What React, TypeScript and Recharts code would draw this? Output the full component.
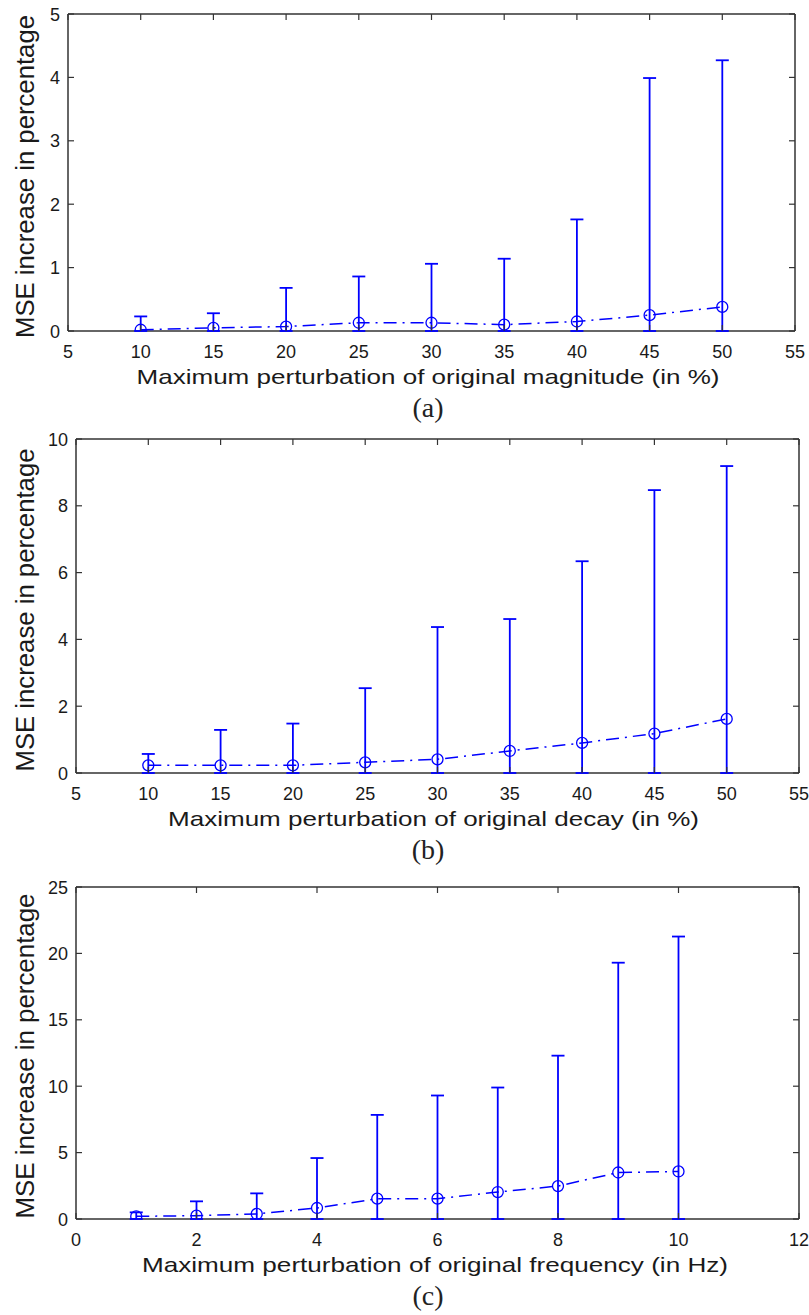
import { ComposedChart, Line, XAxis, YAxis, ErrorBar } from "recharts";

const BLUE = "#0000ff";
const FRAME = "#333333";
const INK = "#1a1a1a";
const SANS = "'Liberation Sans', Arial, sans-serif";

// (a) perturbation of magnitude
const magX = [10, 15, 20, 25, 30, 35, 40, 45, 50];
const magMean = [0.02, 0.05, 0.07, 0.13, 0.13, 0.1, 0.15, 0.25, 0.38];
const magUpper = [0.23, 0.28, 0.68, 0.86, 1.06, 1.14, 1.76, 3.99, 4.27];
const magXTicks = [5, 10, 15, 20, 25, 30, 35, 40, 45, 50, 55];
const magYTicks = [0, 1, 2, 3, 4, 5];

// (b) perturbation of decay
const decX = [10, 15, 20, 25, 30, 35, 40, 45, 50];
const decMean = [0.23, 0.23, 0.23, 0.32, 0.41, 0.66, 0.9, 1.18, 1.62];
const decUpper = [0.57, 1.29, 1.48, 2.54, 4.37, 4.61, 6.34, 8.47, 9.19];
const decXTicks = [5, 10, 15, 20, 25, 30, 35, 40, 45, 50, 55];
const decYTicks = [0, 2, 4, 6, 8, 10];

// (c) perturbation of frequency
const freqX = [1, 2, 3, 4, 5, 6, 7, 8, 9, 10];
const freqMean = [0.2, 0.25, 0.38, 0.83, 1.53, 1.53, 2.03, 2.48, 3.5, 3.58];
const freqUpper = [0.5, 1.33, 1.93, 4.59, 7.84, 9.3, 9.9, 12.3, 19.3, 21.27];
const freqXTicks = [0, 2, 4, 6, 8, 10, 12];
const freqYTicks = [0, 5, 10, 15, 20, 25];

const TICK_LEN = 6;

function BottomTick(props: any) {
  const { x, y, payload } = props;
  return (
    <g>
      <line x1={x} y1={y} x2={x} y2={y - TICK_LEN} stroke={FRAME} strokeWidth={1.2} />
      <text x={x} y={y + 27} textAnchor="middle" fontSize={18} fontFamily={SANS} fill={INK}>
        {payload.value}
      </text>
    </g>
  );
}

function TopTick(props: any) {
  const { x, y } = props;
  return <line x1={x} y1={y} x2={x} y2={y + TICK_LEN} stroke={FRAME} strokeWidth={1.2} />;
}

function LeftTick(props: any) {
  const { x, y, payload } = props;
  return (
    <g>
      <line x1={x} y1={y} x2={x + TICK_LEN} y2={y} stroke={FRAME} strokeWidth={1.2} />
      <text x={x - 8} y={y + 6.5} textAnchor="end" fontSize={18} fontFamily={SANS} fill={INK}>
        {payload.value}
      </text>
    </g>
  );
}

function RightTick(props: any) {
  const { x, y } = props;
  return <line x1={x} y1={y} x2={x - TICK_LEN} y2={y} stroke={FRAME} strokeWidth={1.2} />;
}

interface PanelProps {
  top: number;
  height: number;
  margin: { top: number; right: number; bottom: number; left: number };
  xs: number[];
  mean: number[];
  upper: number[];
  xTicks: number[];
  yTicks: number[];
}

function Panel({ top, height, margin, xs, mean, upper, xTicks, yTicks }: PanelProps) {
  const data = xs.map((x, i) => ({ x, mean: mean[i], err: [mean[i], upper[i] - mean[i]] }));
  const xDomain = [xTicks[0], xTicks[xTicks.length - 1]];
  const yDomain = [yTicks[0], yTicks[yTicks.length - 1]];
  const axisLine = { stroke: FRAME, strokeWidth: 1.5 };
  // axes take 1px each, so shave it off the margins
  const m = { top: margin.top - 1, right: margin.right - 1, bottom: margin.bottom - 1, left: margin.left - 1 };
  return (
    <div style={{ position: "absolute", left: 0, top, width: 809, height }}>
      <ComposedChart width={809} height={height} data={data} margin={m}>
        <XAxis
          dataKey="x"
          type="number"
          domain={xDomain}
          ticks={xTicks}
          interval={0}
          height={1}
          tickSize={0}
          tickMargin={0}
          tickLine={false}
          axisLine={axisLine}
          tick={(p: any) => <BottomTick {...p} />}
          allowDataOverflow
        />
        <XAxis
          xAxisId="top"
          orientation="top"
          dataKey="x"
          type="number"
          domain={xDomain}
          ticks={xTicks}
          interval={0}
          height={1}
          tickSize={0}
          tickMargin={0}
          tickLine={false}
          axisLine={axisLine}
          tick={(p: any) => <TopTick {...p} />}
          allowDataOverflow
        />
        <YAxis
          type="number"
          domain={yDomain}
          ticks={yTicks}
          interval={0}
          width={1}
          tickSize={0}
          tickMargin={0}
          tickLine={false}
          axisLine={axisLine}
          tick={(p: any) => <LeftTick {...p} />}
          allowDataOverflow
        />
        <YAxis
          yAxisId="right"
          orientation="right"
          type="number"
          domain={yDomain}
          ticks={yTicks}
          interval={0}
          width={1}
          tickSize={0}
          tickMargin={0}
          tickLine={false}
          axisLine={axisLine}
          tick={(p: any) => <RightTick {...p} />}
          allowDataOverflow
        />
        <Line
          dataKey="mean"
          stroke={BLUE}
          strokeWidth={1.5}
          strokeDasharray="13 6 2 6"
          dot={{ r: 5.5, stroke: BLUE, strokeWidth: 1.3, fill: "none", strokeDasharray: "" }}
          isAnimationActive={false}
          zIndex={1000}
        >
          <ErrorBar
            dataKey="err"
            direction="y"
            width={6.5}
            stroke={BLUE}
            strokeWidth={1.8}
            isAnimationActive={false}
            zIndex={1000}
          />
        </Line>
      </ComposedChart>
    </div>
  );
}

const yLabel = "MSE increase in percentage";

export default function App() {
  return (
    <div style={{ position: "absolute", left: 0, top: 0, width: 809, height: 1315, background: "#fff" }}>
      <Panel
        top={0}
        height={430}
        margin={{ top: 14, right: 14, bottom: 99, left: 68 }}
        xs={magX}
        mean={magMean}
        upper={magUpper}
        xTicks={magXTicks}
        yTicks={magYTicks}
      />
      <Panel
        top={430}
        height={440}
        margin={{ top: 9, right: 10, bottom: 97, left: 76 }}
        xs={decX}
        mean={decMean}
        upper={decUpper}
        xTicks={decXTicks}
        yTicks={decYTicks}
      />
      <Panel
        top={870}
        height={445}
        margin={{ top: 17, right: 10, bottom: 96, left: 76 }}
        xs={freqX}
        mean={freqMean}
        upper={freqUpper}
        xTicks={freqXTicks}
        yTicks={freqYTicks}
      />
      <svg
        width={809}
        height={1315}
        style={{ position: "absolute", left: 0, top: 0, pointerEvents: "none" }}
      >
        <g fontFamily={SANS} fill={INK}>
          <text transform="translate(33.5,176.5) rotate(-90)" textAnchor="middle" fontSize={25} textLength={323} lengthAdjust="spacingAndGlyphs">
            {yLabel}
          </text>
          <text transform="translate(33.5,610) rotate(-90)" textAnchor="middle" fontSize={25} textLength={323} lengthAdjust="spacingAndGlyphs">
            {yLabel}
          </text>
          <text transform="translate(33.5,1056) rotate(-90)" textAnchor="middle" fontSize={25} textLength={325} lengthAdjust="spacingAndGlyphs">
            {yLabel}
          </text>
          <text x={428} y={384} textAnchor="middle" fontSize={21} textLength={583} lengthAdjust="spacingAndGlyphs">
            Maximum perturbation of original magnitude (in %)
          </text>
          <text x={433.5} y={826} textAnchor="middle" fontSize={21} textLength={531} lengthAdjust="spacingAndGlyphs">
            Maximum perturbation of original decay (in %)
          </text>
          <text x={435} y={1272} textAnchor="middle" fontSize={21} textLength={586} lengthAdjust="spacingAndGlyphs">
            Maximum perturbation of original frequency (in Hz)
          </text>
        </g>
        <g fontFamily="'Liberation Serif', 'Times New Roman', serif" fill="#222" fontSize={28} textAnchor="middle">
          <text x={428} y={417}>(a)</text>
          <text x={428} y={859}>(b)</text>
          <text x={428} y={1305}>(c)</text>
        </g>
      </svg>
    </div>
  );
}
